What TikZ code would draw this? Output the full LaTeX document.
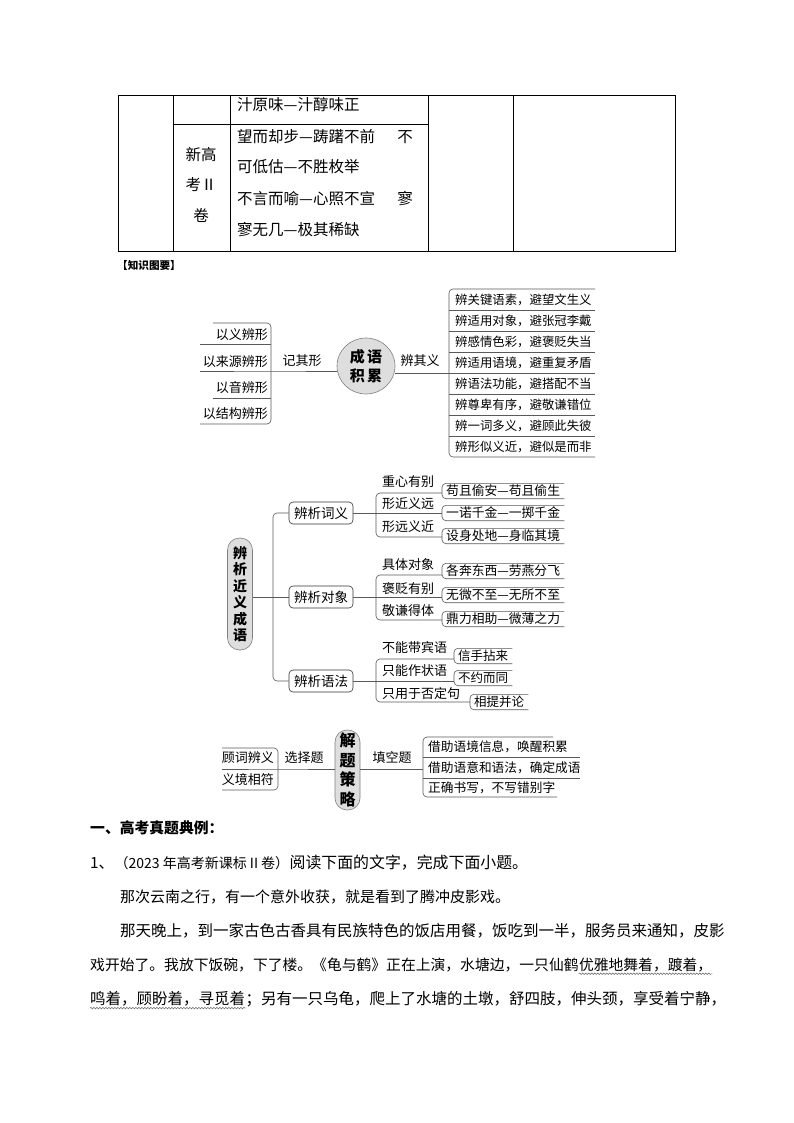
\documentclass[tikz,border=0pt]{standalone}
\usepackage{fontspec}
\usetikzlibrary{calc,positioning,shapes.geometric,decorations.pathmorphing}
\newfontfamily\cjk{Noto Sans CJK SC}
\newcommand{\fsz}[2]{\fontsize{#1pt}{#2pt}\selectfont}

\begin{document}
\begin{tikzpicture}
	[x=1pt,y=-1pt,
	 every node/.style={inner sep=0pt},
	 txt/.style={font=\cjk\fsz{#1}{#1}},
	 txt/.default=13,
	 grid/.style={line width=0.8pt},
	 branch/.style={draw=black!65,line width=0.6pt,rounded corners=4pt},
	 hub/.style={draw=black!50,fill=black!13,line width=0.6pt},
	 topic/.style={draw=black!80,line width=0.6pt,rounded corners=4pt,
	   minimum width=64pt,minimum height=22pt,txt=13.5},
	 leaf/.style={anchor=west,inner xsep=4pt,minimum height=15pt},
	 wave/.style={decorate,decoration={snake,amplitude=0.8pt,segment length=3pt},
	   black!60,line width=0.5pt}]
	\useasboundingbox[fill=white] (0,0) rectangle (794,1123);

	%
	% end of the table
	%
	\draw[grid] (118,95) rectangle (675,251);
	\foreach \x in {173,230,428,513}
		\draw[grid] (\x,95) -- (\x,251);
	\draw[grid] (173,124) -- (428,124);
	\node[txt=15.5,anchor=west] (r1) at (237,105) {汁原味—汁醇味正};
	\node[txt=15.5,anchor=west] (r2) at (237,137) {望而却步—踌躇不前};
	\node[txt=15.5,anchor=west] (r3) at (237,167) {可低估—不胜枚举};
	\node[txt=15.5,anchor=west] (r4) at (237,199) {不言而喻—心照不宣};
	\node[txt=15.5,anchor=west] (r5) at (237,230) {寥无几—极其稀缺};
	\node[txt=15.5] (r2b) at (405,137) {不};
	\node[txt=15.5] (r4b) at (405,199) {寥};
	\node[txt=15.5] (j1) at (201,155) {新高};
	\node[txt=15.5] (j2) at (201,185) {考Ⅱ};
	\node[txt=15.5] (j3) at (201,215) {卷};

	\node[font=\cjk\bfseries\fsz{10.6}{10.6},anchor=west] (tuyao) at (117,265) {【知识图要】};

	%
	% map 1: 成语积累
	%
	\node[hub,ellipse,minimum width=58pt,minimum height=56pt,align=center,
	  font=\cjk\bfseries\fsz{15}{19}] (jl) at (366,366) {成\,语\\积\,累};
	% left side
	\coordinate (xl) at (271,371);
	\draw[branch] (213,323) -- (271,323) -- (271,424) -- (200,424);
	\draw[branch] (200,344) -- (271,344);
	\draw[branch] (213,398) -- (271,398);
	\draw[branch] (200,371) -- (xl) -- (jl.west |- xl);
	\node[txt] (jqx) at (302,361) {记其形};
	\foreach \t/\y [count=\k] in {以义辨形/335,以来源辨形/362,以音辨形/388,以结构辨形/414}
		\node[txt,anchor=east] (xing\k) at (268,\y) {\t};
	% right side
	\coordinate (xr) at (449,373);
	\draw[branch] (jl.east |- xr) -- (xr);
	\draw[branch] (595,289) -- (449,289) -- (449,457) -- (595,457);
	\foreach \k in {1,...,7}
		\draw[branch] (449,{289+21*\k}) -- (595,{289+21*\k});
	\node[txt] (jqy) at (420,361) {辨其义};
	\foreach \t [count=\k from 0] in {辨关键语素，避望文生义,辨适用对象，避张冠李戴,
	  辨感情色彩，避褒贬失当,辨适用语境，避重复矛盾,辨语法功能，避搭配不当,
	  辨尊卑有序，避敬谦错位,辨一词多义，避顾此失彼,辨形似义近，避似是而非}
		\node[txt=12.4,anchor=west] (yi\k) at (455,{299.5+21*\k}) {\t};

	%
	% map 2: 辨析近义成语
	%
	\node[hub,rounded corners=12pt,minimum width=25pt,minimum height=112pt,align=center,
	  font=\cjk\bfseries\fsz{14}{16.5}] (bx) at (240,594) {辨\\析\\近\\义\\成\\语};
	\node[topic] (cy) at (321,513) {辨析词义};
	\node[topic] (dx) at (321,597) {辨析对象};
	\node[topic] (yf) at (321,681) {辨析语法};
	\draw[branch] (cy.west) -- (273,513) -- (273,681) -- (yf.west);
	\draw[branch] (bx.east |- dx) -- (dx.west);

	% 辨析词义
	\node[leaf,txt=12.8] (c1) at (442,491) {苟且偷安—苟且偷生};
	\node[leaf,txt=12.8] (c2) at (442,513) {一诺千金—一掷千金};
	\node[leaf,txt=12.8] (c3) at (442,536) {设身处地—身临其境};
	\node[txt,anchor=west] (cl1) at (382,482) {重心有别};
	\node[txt,anchor=west] (cl2) at (382,504) {形近义远};
	\node[txt,anchor=west] (cl3) at (382,527) {形远义近};
	\draw[branch] (c1.west |- 0,493) -- (376,493) -- (376,537) -- (c3.west |- 0,537);
	\draw[branch] (cy.east) -- (cy.east -| c2.west);

	% 辨析对象
	\node[leaf,txt=12.8] (d1) at (442,571) {各奔东西—劳燕分飞};
	\node[leaf,txt=12.8] (d2) at (442,595) {无微不至—无所不至};
	\node[leaf,txt=12.8] (d3) at (442,619) {鼎力相助—微薄之力};
	\node[txt,anchor=west] (dl1) at (382,565) {具体对象};
	\node[txt,anchor=west] (dl2) at (382,589) {褒贬有别};
	\node[txt,anchor=west] (dl3) at (382,611) {敬谦得体};
	\draw[branch] (d1.west |- 0,575) -- (376,575) -- (376,620) -- (d3.west |- 0,620);
	\draw[branch] (dx.east) -- (dx.east -| d2.west);

	% 辨析语法
	\node[leaf,txt=12.5] (f1) at (454,656) {信手拈来};
	\node[leaf,txt=12.5] (f2) at (454,678) {不约而同};
	\node[leaf,txt=12.5] (f3) at (470,702) {相提并论};
	\node[txt,anchor=west] (fl1) at (382,648) {不能带宾语};
	\node[txt,anchor=west] (fl2) at (382,671) {只能作状语};
	\node[txt,anchor=west] (fl3) at (382,694) {只用于否定句};
	\draw[branch] (f1.west |- 0,659) -- (376,659) -- (376,702) -- (f3.west |- 0,702);
	\draw[branch] (yf.east) -- (yf.east -| f2.west);

	\foreach \n in {c1,c2,c3,d1,d2,d3,f1,f2,f3}
		\draw[branch] (\n.north east) -- (\n.north west) -- (\n.south west) -- (\n.south east);

	%
	% map 3: 解题策略
	%
	\node[hub,rounded corners=12pt,minimum width=25pt,minimum height=80pt,align=center,
	  font=\cjk\bfseries\fsz{16}{19.5}] (cl) at (347.5,770) {解\\题\\策\\略};
	\coordinate (sl) at (278,769);
	\coordinate (sr) at (423,769);
	\draw[branch] (222,748) -- (278,748) -- (278,790) -- (222,790);
	\draw[branch] (222,769) -- (sl) -- (cl.west |- sl);
	\draw[branch] (cl.east |- sr) -- (sr);
	\draw[branch] (553,737) -- (423,737) -- (423,797) -- (557,797);
	\draw[branch] (423,757) -- (580,757);
	\draw[branch] (423,778) -- (580,778);
	\node[txt] (xzt) at (304,758) {选择题};
	\node[txt] (tkt) at (392,758) {填空题};
	\node[txt,anchor=east] (gc) at (274,758) {顾词辨义};
	\node[txt,anchor=east] (yj) at (274,780) {义境相符};
	\node[txt=12.7,anchor=west] (t1) at (428,747) {借助语境信息，唤醒积累};
	\node[txt=12.7,anchor=west] (t2) at (428,768) {借助语意和语法，确定成语};
	\node[txt=12.7,anchor=west] (t3) at (428,788) {正确书写，不写错别字};

	%
	% text below
	%
	\node[font=\cjk\bfseries\fsz{14.8}{14.8},anchor=west] (h1) at (90,828) {一、高考真题典例：};
	\node[txt=15.4,anchor=west] (q1) at (90,863) {1、};
	\node[txt=14,right=0pt of q1] (q2) {（2023 年高考新课标 II 卷）};
	\node[txt=15.9,right=0pt of q2] (q3) {阅读下面的文字，完成下面小题。};
	\node[txt=15,anchor=west] (p1) at (120,897) {那次云南之行，有一个意外收获，就是看到了腾冲皮影戏。};
	\node[txt=15.5,anchor=west] (p2) at (120,931) {那天晚上，到一家古色古香具有民族特色的饭店用餐，饭吃到一半，服务员来通知，皮影};
	\node[txt=14.8,anchor=west] (p3) at (90,965) {戏开始了。我放下饭碗，下了楼。《龟与鹤》正在上演，水塘边，一只仙鹤};
	\node[txt=14.8,right=0pt of p3] (p3w) {优雅地舞着，踱着，};
	\node[txt=15.5,anchor=west] (p4w) at (90,999) {鸣着，顾盼着，寻觅着};
	\node[txt=15.5,right=0pt of p4w] (p4) {；另有一只乌龟，爬上了水塘的土墩，舒四肢，伸头颈，享受着宁静，};
	\draw[wave] ($(p3w.south west)+(0,1.5)$) -- ($(p3w.south east)+(0,1.5)$);
	\draw[wave] ($(p4w.south west)+(0,1.5)$) -- ($(p4w.south east)+(0,1.5)$);
\end{tikzpicture}
\end{document}
